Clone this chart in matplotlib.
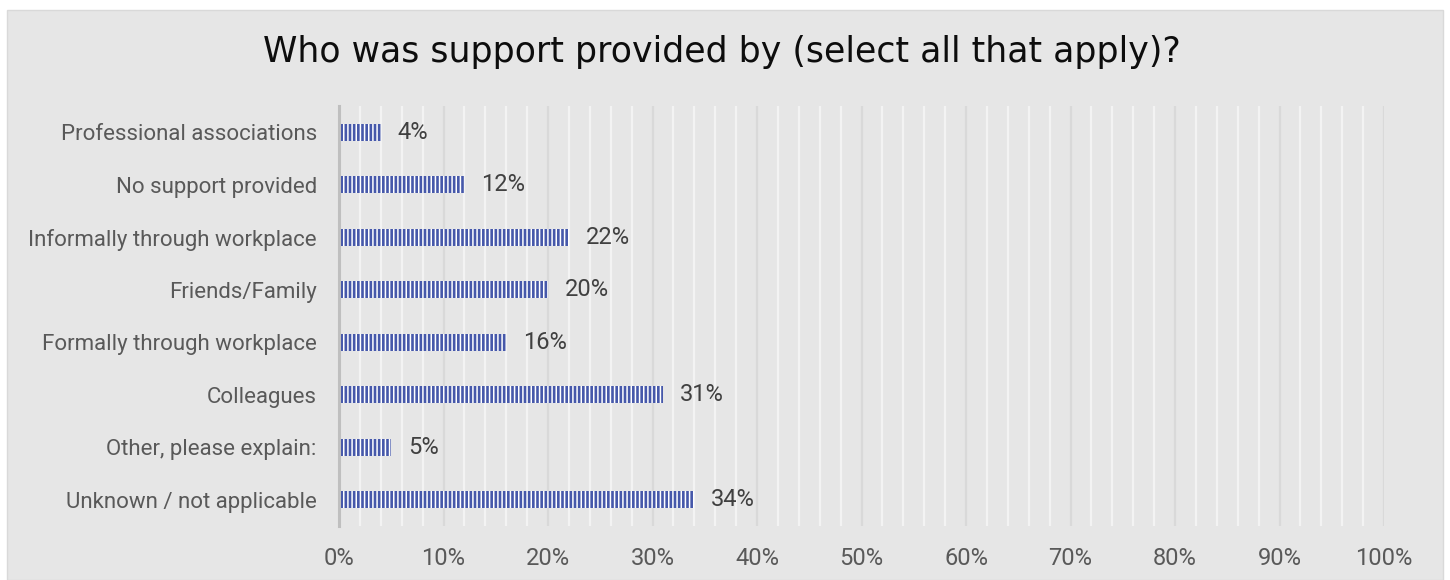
import matplotlib
matplotlib.use("Agg")
import matplotlib.pyplot as plt
from matplotlib.patches import Rectangle
from matplotlib.ticker import MultipleLocator, PercentFormatter

title = "Who was support provided by (select all that apply)?"
categories = [
    "Professional associations",
    "No support provided",
    "Informally through workplace",
    "Friends/Family",
    "Formally through workplace",
    "Colleagues",
    "Other, please explain:",
    "Unknown / not applicable",
]
values = [4, 12, 22, 20, 16, 31, 5, 34]
x_ticks = [0, 10, 20, 30, 40, 50, 60, 70, 80, 90, 100]

BG = "#e6e6e6"
BAR = "#4658aa"

plt.rcParams["font.family"] = ["Roboto", "DejaVu Sans"]
plt.rcParams["hatch.color"] = "#ffffff"
plt.rcParams["hatch.linewidth"] = 1.1

fig = plt.figure(figsize=(14.5, 5.8), dpi=100, facecolor="white")
fig.patches.append(Rectangle((7 / 1450, 0), 1436 / 1450, 570 / 580,
                             transform=fig.transFigure, facecolor=BG,
                             edgecolor="#d9d9d9", linewidth=1.0, zorder=-10))

ax = fig.add_axes([339 / 1450, 54 / 580, (1384 - 339) / 1450, (526 - 106) / 580])
ax.set_facecolor("none")

ypos = list(range(len(categories)))
bars = ax.barh(ypos, values, height=0.32, color=BAR, hatch="||||", zorder=3)
ax.bar_label(bars, labels=[f"{v}%" for v in values], padding=12,
             fontsize=17, color="#404040")

ax.set_xlim(0, 100)
ax.set_ylim(len(categories) - 0.5, -0.5)
ax.set_yticks(ypos)
ax.set_yticklabels(categories)
ax.set_xticks(x_ticks)
ax.xaxis.set_major_formatter(PercentFormatter(decimals=0))
ax.xaxis.set_minor_locator(MultipleLocator(2))

ax.grid(axis="x", which="minor", color="#f3f3f3", linewidth=1.6, zorder=1)
ax.grid(axis="x", which="major", color="#d9d9d9", linewidth=1.6, zorder=1)
ax.set_axisbelow(True)

ax.tick_params(axis="both", which="both", length=0, labelcolor="#595959")
ax.tick_params(axis="y", pad=16, labelsize=16)
ax.tick_params(axis="x", pad=15, labelsize=17)

for s in ["top", "right", "bottom"]:
    ax.spines[s].set_visible(False)
ax.spines["left"].set_color("#bfbfbf")
ax.spines["left"].set_linewidth(2.2)
ax.spines["left"].set_zorder(4)

fig.text(0.498, 1 - 52 / 580, title, ha="center", va="center",
         fontsize=25, color="#0d0d0d", family=["DejaVu Sans"])

fig.savefig("out.png", dpi=100, facecolor="white")
